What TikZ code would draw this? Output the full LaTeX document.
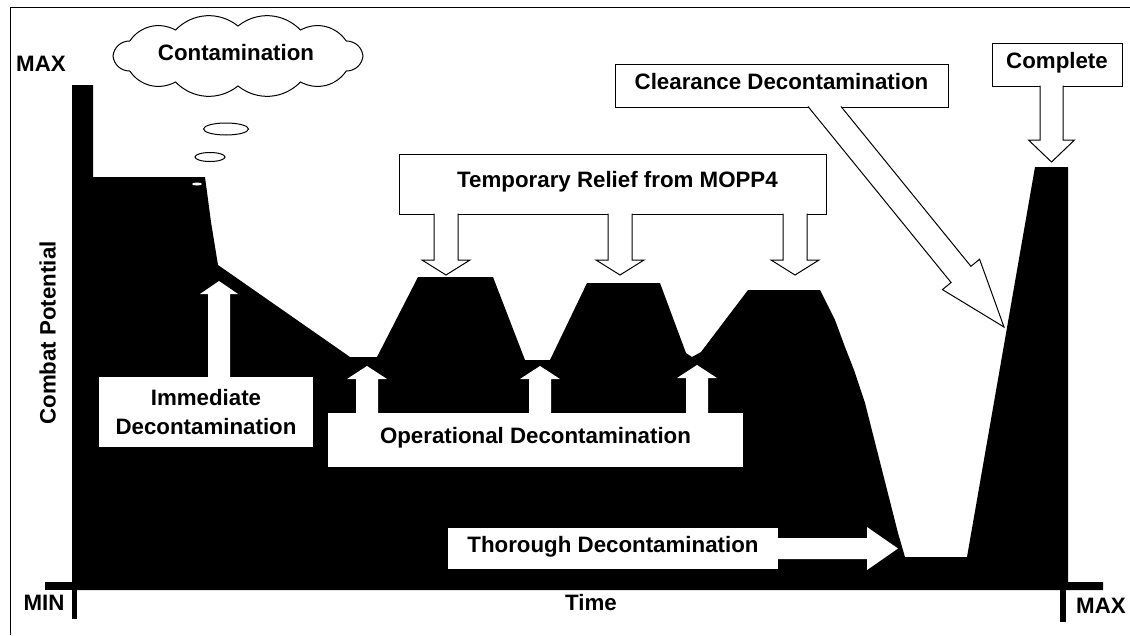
\documentclass[tikz,border=0pt]{standalone}
\usepackage{fontspec}
\setmainfont{Liberation Sans}
\usetikzlibrary{shapes.geometric, calc}

\begin{document}
\begin{tikzpicture}[
    x=1pt, y=-1pt,
    line width=1pt,
    txt/.style={
        font=\fontsize{22.3}{29}\selectfont\bfseries,
        inner sep=0pt,
        text height=0.72em,
        text depth=0pt
    },
    twoline/.style={
        font=\fontsize{22.3}{29}\selectfont\bfseries,
        inner sep=0pt,
        align=center
    },
    callout/.style={draw=black, fill=white, line width=1pt},
    gap/.style={fill=white, draw=none},
    bubble/.style={ellipse, draw=black, fill=white, inner sep=0pt}
]

    \useasboundingbox (0,0) rectangle (1130,635);

    % Frame
    \draw (10,635) -- (10,7) -- (1130,7);

    % Combat potential profile
    \fill[black] (72,590) -- (72,85) -- (93,85) -- (93,177) -- (205,177)
        -- (211,222) -- (218,265) -- (350,357) -- (377,357) -- (418,277)
        -- (493,277) -- (525,360) -- (550,360) -- (587,283) -- (660,283)
        -- (686,353) -- (692,357) -- (701,352) -- (748,290) -- (820,290)
        -- (835,320) -- (845,347) -- (854,370) -- (865,403) -- (898,533)
        -- (905,557) -- (967,557) -- (1035,167) -- (1068,167)
        -- (1068,582) -- (1103,582) -- (1103,590) -- cycle;
    \fill[black] (45,582) rectangle (72,590);
    \fill[black] (72,590) rectangle (77,619);
    \fill[black] (1060,590) rectangle (1066,622);

    % Axis labels
    \node[txt] (maxy) at (41,68) {MAX};
    \node[txt] (miny) at (44,607) {MIN};
    \node[txt] (maxx) at (1101,610) {MAX};
    \node[txt] (time) at (591,607) {Time};
    \node[txt, rotate=90] (potential) at (52,333) {Combat Potential};

    % Contamination cloud
    \draw[fill=white, shift={(238,56)}] (0:125 and 30)
        \foreach \a in {30,60,...,360} { to[bend left=42] (\a:125 and 30) } -- cycle;
    \node[txt] (contam) at (236,57) {Contamination};
    \node[bubble, minimum width=45, minimum height=12] (bub1) at (226,129) {};
    \node[bubble, minimum width=30, minimum height=9] (bub2) at (210,157) {};
    \node[ellipse, fill=white, minimum width=10, minimum height=3, inner sep=0pt] (bub3) at (197,184) {};

    % Decontamination boxes inside the profile
    \node[gap, twoline, minimum width=214, minimum height=70] (immed) at (206,412) {Immediate\\Decontamination};
    \node[gap, txt, minimum width=415, minimum height=54] (oper) at (535.5,440) {Operational Decontamination};
    \node[gap, txt, minimum width=330, minimum height=41] (thor) at (613,548.5) {Thorough Decontamination};

    \coordinate (imtip) at (219,281);
    \coordinate (op1) at (367,366);
    \coordinate (op2) at (540,366);
    \coordinate (op3) at (697,365);
    \coordinate (thtip) at (898,548.5);

    \fill[gap] ($(imtip |- immed.north)+(-11,1)$) -- ($(imtip)+(-11,13)$) -- ($(imtip)+(-19,13)$)
        -- (imtip) -- ($(imtip)+(19,13)$) -- ($(imtip)+(11,13)$) -- ($(imtip |- immed.north)+(11,1)$) -- cycle;
    \foreach \t in {op1,op2,op3}
        \fill[gap] ($(\t |- oper.north)+(-11,1)$) -- ($(\t)+(-11,13)$) -- ($(\t)+(-20,13)$)
            -- (\t) -- ($(\t)+(20,13)$) -- ($(\t)+(11,13)$) -- ($(\t |- oper.north)+(11,1)$) -- cycle;
    \fill[gap] ($(thor.east)+(-1,-10.5)$) -- ($(thtip)+(-31,-10.5)$) -- ($(thtip)+(-31,-21.5)$)
        -- (thtip) -- ($(thtip)+(-31,21.5)$) -- ($(thtip)+(-31,10.5)$) -- ($(thor.east)+(-1,10.5)$) -- cycle;

    % Callouts above the profile
    \node[callout, txt, minimum width=427, minimum height=60] (relief) at (612.5,184) {\hspace*{10pt}Temporary Relief from MOPP4};
    \coordinate (rt1) at (446,275);
    \coordinate (rt2) at (620,275);
    \coordinate (rt3) at (795,275);
    \foreach \t in {rt1,rt2,rt3}
        \filldraw[callout] ($(\t |- relief.south)+(-12,-1)$) -- ($(\t)+(-12,-15)$) -- ($(\t)+(-24,-15)$)
            -- (\t) -- ($(\t)+(24,-15)$) -- ($(\t)+(12,-15)$) -- ($(\t |- relief.south)+(12,-1)$);

    \node[callout, txt, minimum width=130, minimum height=43] (complete) at (1057,64.5) {Complete};
    \coordinate (cptip) at (1051.5,162);
    \filldraw[callout] ($(cptip |- complete.south)+(-11.5,-1)$) -- ($(cptip)+(-11.5,-22)$) -- ($(cptip)+(-23,-22)$)
        -- (cptip) -- ($(cptip)+(23,-22)$) -- ($(cptip)+(11.5,-22)$) -- ($(cptip |- complete.south)+(11.5,-1)$);

    \node[callout, txt, minimum width=333, minimum height=43] (clear) at (781.5,85.5) {Clearance Decontamination};
    \coordinate (cltip) at (1004,327);
    \coordinate (clbase) at (961,274.4);
    \filldraw[callout] ($(clear.south)+(26.5,-1)$) -- ($(clbase)!12.8pt!-90:(cltip)$) -- ($(clbase)!24pt!-90:(cltip)$)
        -- (cltip) -- ($(clbase)!24pt!90:(cltip)$) -- ($(clbase)!12.8pt!90:(cltip)$) -- ($(clear.south)+(59.5,-1)$);

\end{tikzpicture}
\end{document}
